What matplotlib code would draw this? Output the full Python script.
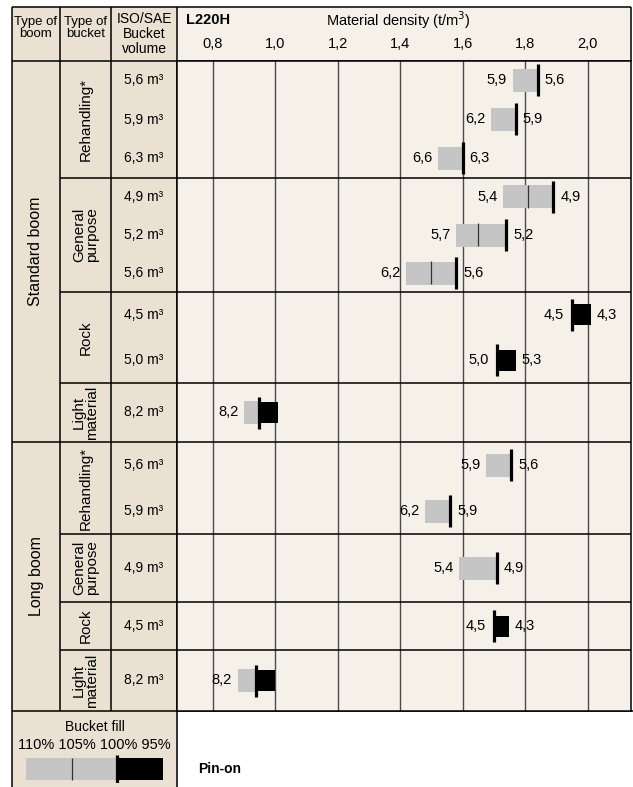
import numpy as np
import matplotlib.pyplot as plt
from matplotlib.patches import Rectangle

plt.rcParams['font.family'] = ['Liberation Sans', 'DejaVu Sans']

# ---- table content ----
boom_names = ["Standard boom", "Long boom"]
group_boom = [0, 0, 0, 0, 1, 1, 1, 1]
group_type = ["Rehandling*", "General\npurpose", "Rock", "Light\nmaterial",
              "Rehandling*", "General\npurpose", "Rock", "Light\nmaterial"]
group_rows = [3, 3, 2, 1, 2, 1, 1, 1]
volumes = ["5,6 m³", "5,9 m³", "6,3 m³", "4,9 m³", "5,2 m³", "5,6 m³",
           "4,5 m³", "5,0 m³", "8,2 m³",
           "5,6 m³", "5,9 m³", "4,9 m³", "4,5 m³", "8,2 m³"]

# material density (t/m3), one entry per row
gray_start = [1.76, 1.69, 1.52, 1.73, 1.58, 1.42, np.nan, np.nan, 0.90,
              1.675, 1.48, 1.59, np.nan, 0.88]
fill_100 = [1.84, 1.77, 1.60, 1.89, 1.74, 1.58, 1.95, 1.71, 0.95,
            1.755, 1.56, 1.71, 1.70, 0.94]
fill_105 = [np.nan, np.nan, np.nan, 1.81, 1.65, 1.50, np.nan, np.nan, np.nan,
            np.nan, np.nan, np.nan, np.nan, np.nan]
black_end = [np.nan, np.nan, np.nan, np.nan, np.nan, np.nan, 2.01, 1.77, 1.01,
             np.nan, np.nan, np.nan, 1.75, 1.00]
left_label = ["5,9", "6,2", "6,6", "5,4", "5,7", "6,2", "4,5", "5,0", "8,2",
              "5,9", "6,2", "5,4", "4,5", "8,2"]
right_label = ["5,6", "5,9", "6,3", "4,9", "5,2", "5,6", "4,3", "5,3", "",
               "5,6", "5,9", "4,9", "4,3", ""]

ticks = [0.8, 1.0, 1.2, 1.4, 1.6, 1.8, 2.0]
tick_labels = ["0,8", "1,0", "1,2", "1,4", "1,6", "1,8", "2,0"]

legend_fill = [110, 105, 100, 95]
legend_text = "110% 105% 100% 95%"

# ---- layout (pixels) ----
W, H = 633, 787
X_BOOM, X_TYPE, X_VOL, X_CHART, X_RIGHT = 12, 60, 111, 177, 631
Y_TOP, Y_HEAD, Y_LEG = 7, 61, 711
group_edges = [61, 178, 292, 383, 442, 534, 602, 650, 711]

beige = '#EAE1D2'
paper = '#F5F1E9'
gray = '#C5C5C5'

row_y = []
for g, n in enumerate(group_rows):
    h = (group_edges[g + 1] - group_edges[g]) / n
    row_y += [group_edges[g] + h * (k + 0.5) for k in range(n)]

fig = plt.figure(figsize=(W / 100, H / 100), dpi=100)
bg = fig.add_axes([0, 0, 1, 1])
bg.set_xlim(0, W)
bg.set_ylim(H, 0)
bg.axis('off')

bg.add_patch(Rectangle((X_BOOM, Y_TOP), X_CHART - X_BOOM, H - Y_TOP, fc=beige, ec='none'))
bg.add_patch(Rectangle((X_CHART, Y_TOP), X_RIGHT - X_CHART, Y_HEAD - Y_TOP, fc=paper, ec='none'))

lw = 1.1
bg.hlines(Y_TOP, X_BOOM, X_RIGHT, color='black', lw=lw)
bg.hlines(Y_HEAD, X_BOOM, X_RIGHT, color='black', lw=lw)
bg.hlines(Y_LEG, X_BOOM, W, color='black', lw=lw)
bg.vlines(X_BOOM, Y_TOP, H, color='black', lw=lw)
bg.vlines([X_TYPE, X_VOL], Y_TOP, Y_LEG, color='black', lw=lw)
bg.vlines(X_CHART, Y_TOP, H, color='black', lw=lw)
bg.vlines(X_RIGHT, Y_TOP, Y_HEAD, color='black', lw=lw)
for g in range(1, len(group_rows)):
    x0 = X_BOOM if group_boom[g] != group_boom[g - 1] else X_TYPE
    bg.hlines(group_edges[g], x0, X_CHART, color='black', lw=lw)

# header texts
bg.text((X_BOOM + X_TYPE) / 2, 28, "Type of\nboom", ha='center', va='center',
        fontsize=9.5, linespacing=1.1)
bg.text((X_TYPE + X_VOL) / 2, 28, "Type of\nbucket", ha='center', va='center',
        fontsize=9.5, linespacing=1.1)
bg.text((X_VOL + X_CHART) / 2, 34, "ISO/SAE\nBucket\nvolume", ha='center', va='center',
        fontsize=10, linespacing=1.05)
bg.text(186, 20, "L220H", ha='left', va='center', fontsize=10.5, fontweight='bold')
bg.text(398, 20, "Material density (t/m$^3$)", ha='center', va='center', fontsize=10.5)

# boom / bucket / volume labels
for b, name in enumerate(boom_names):
    gs = [g for g in range(len(group_rows)) if group_boom[g] == b]
    mid = (group_edges[gs[0]] + group_edges[gs[-1] + 1]) / 2
    bg.text((X_BOOM + X_TYPE) / 2, mid, name, rotation=90, ha='center', va='center', fontsize=11.5)
for g, name in enumerate(group_type):
    mid = (group_edges[g] + group_edges[g + 1]) / 2
    bg.text((X_TYPE + X_VOL) / 2, mid, name, rotation=90, ha='center', va='center',
            fontsize=11, linespacing=0.95)
for y, v in zip(row_y, volumes):
    bg.text((X_VOL + X_CHART) / 2, y, v, ha='center', va='center', fontsize=10)

# legend cell
bg.text((X_BOOM + X_CHART) / 2, 727, "Bucket fill", ha='center', va='center', fontsize=10)
bg.text((X_BOOM + X_CHART) / 2, 745, legend_text, ha='center', va='center', fontsize=10.5)
bg.text(198, 769, "Pin-on", ha='left', va='center', fontsize=10, fontweight='bold')

# ---- chart ----
ax = fig.add_axes([X_CHART / W, 1 - Y_LEG / H, (X_RIGHT - X_CHART) / W, (Y_LEG - Y_HEAD) / H])
ax.set_facecolor(paper)
ax.set_xlim(0.686, 2.139)
ax.set_ylim(Y_LEG, Y_HEAD)
ax.set_xticks(ticks)
ax.set_xticklabels(tick_labels)
ax.xaxis.tick_top()
ax.tick_params(axis='x', length=0, pad=7, labelsize=10.5)
ax.set_yticks([])
ax.grid(axis='x', color='#4a4a4a', lw=1)
ax.set_axisbelow(True)
for s in ax.spines.values():
    s.set_color('black')
    s.set_linewidth(lw)
for e in group_edges[1:-1]:
    ax.axhline(e, color='black', lw=lw, zorder=1)

for i, y in enumerate(row_y):
    lo, full, mid, hi = gray_start[i], fill_100[i], fill_105[i], black_end[i]
    if not np.isnan(lo):
        ax.barh(y, full - lo, left=lo, height=23, color=gray, zorder=3)
    if not np.isnan(mid):
        ax.vlines(mid, y - 11.5, y + 11.5, color='#333333', lw=0.9, zorder=4)
    if not np.isnan(hi):
        ax.barh(y, hi - full, left=full, height=21, color='black', zorder=3)
    ax.vlines(full, y - 16, y + 16, color='black', lw=2.3, zorder=5)

    xl, dl = (full, -6) if np.isnan(lo) else (lo, -4)
    ax.annotate(left_label[i], (xl, y), xytext=(dl, 0), textcoords='offset points',
                ha='right', va='center', fontsize=10.5)
    xr, dr = (full, 5) if np.isnan(hi) else (hi, 4)
    if right_label[i]:
        ax.annotate(right_label[i], (xr, y), xytext=(dr, 0), textcoords='offset points',
                    ha='left', va='center', fontsize=10.5)

# legend bar
leg = fig.add_axes([26 / W, 1 - 783 / H, (163 - 26) / W, 28 / H])
leg.set_xlim(legend_fill[0], legend_fill[-1])
leg.set_ylim(0, 1)
leg.axis('off')
leg.barh(0.5, legend_fill[0] - legend_fill[2], left=legend_fill[2], height=0.79, color=gray)
leg.barh(0.5, legend_fill[2] - legend_fill[3], left=legend_fill[3], height=0.79, color='black')
leg.vlines(legend_fill[1], 0.105, 0.895, color='#333333', lw=0.9)
leg.vlines(legend_fill[2], 0, 1, color='black', lw=2.3)

fig.savefig('out.png', dpi=100, facecolor='white')
